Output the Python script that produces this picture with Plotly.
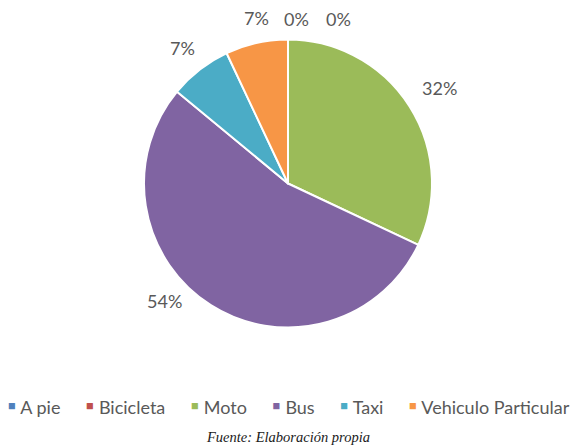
import math
import plotly.graph_objects as go

categories = ["A pie", "Bicicleta", "Moto", "Bus", "Taxi", "Vehiculo Particular"]
values = [0, 0, 32, 54, 7, 7]
colors = ["#4F81BD", "#C0504D", "#9BBB59", "#8064A2", "#4BACC6", "#F79646"]
caption = "Fuente: Elaboración propia"

W, H = 576, 447
CX, CY, R = 288, 183.5, 144     # pie centre / radius in px
LABEL_R = 172                   # label distance from centre in px
LABEL_NUDGE = {"Bus": (-31, -28), "Moto": (6, -3), "Vehiculo Particular": (6, 2)}
FONT = "Lato, Open Sans, sans-serif"
TXT = "#595959"

fig = go.Figure(go.Pie(
    labels=categories,
    values=values,
    sort=False,
    direction="clockwise",
    rotation=0,
    marker=dict(colors=colors, line=dict(color="white", width=2)),
    textinfo="none",
    domain=dict(x=[(CX - R) / W, (CX + R) / W], y=[1 - (CY + R) / H, 1 - (CY - R) / H]),
    automargin=False,
    showlegend=False,
    hoverinfo="label+percent",
))

# percentage labels placed outside each slice, derived from the data
total = sum(values)
annotations = []
cum = 0
zero_k = 0
for lab, v in zip(categories, values):
    frac = v / total
    mid = (cum + frac / 2) * 2 * math.pi
    cum += frac
    px = CX + LABEL_R * math.sin(mid)
    py = CY - LABEL_R * math.cos(mid)
    if v == 0:
        px = CX + 8 + 42 * zero_k
        py = CY - 164
        zero_k += 1
    dx, dy = LABEL_NUDGE.get(lab, (0, 0))
    px += dx
    py += dy
    annotations.append(dict(
        text=f"{round(frac * 100)}%", x=px / W, y=1 - py / H, xref="paper", yref="paper",
        xanchor="center", yanchor="middle", showarrow=False,
        font=dict(family=FONT, size=18, color=TXT),
    ))

# legend row built from categories and colours
gap = '<span style="font-size:16px">      </span>'
legend_txt = gap.join(
    f'<span style="color:{c};font-size:23px">▪</span> {lab}' for lab, c in zip(categories, colors)
)
annotations.append(dict(
    text=legend_txt, x=0.5, y=1 - 405 / H, xref="paper", yref="paper",
    xanchor="center", yanchor="middle", showarrow=False,
    font=dict(family=FONT, size=18, color=TXT),
))

annotations.append(dict(
    text="<i>" + caption + "</i>", x=0.5, y=1 - 437 / H, xref="paper", yref="paper",
    xanchor="center", yanchor="middle", showarrow=False,
    font=dict(family="Liberation Serif, Times New Roman, serif", size=14.5, color="#1a1a1a"),
))

fig.update_layout(
    width=W, height=H,
    margin=dict(l=0, r=0, t=0, b=0),
    paper_bgcolor="white",
    annotations=annotations,
)

fig.write_html("out.html", config={"displayModeBar": False},
               post_script="document.body.style.margin='0';")
